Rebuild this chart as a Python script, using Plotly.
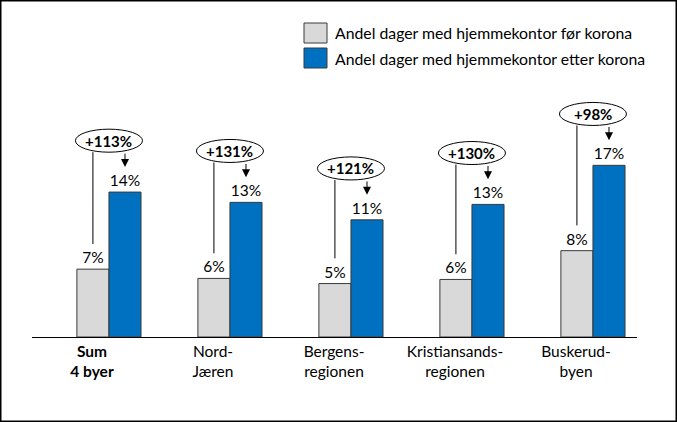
import plotly.graph_objects as go

# ---- data ----
categories = ["<b>Sum<br>4 byer</b>", "Nord-<br>Jæren", "Bergens-<br>regionen",
              "Kristiansands-<br>regionen", "Buskerud-<br>byen"]
before = [6.6, 5.7, 5.2, 5.6, 8.4]
after = [14.1, 13.1, 11.4, 12.9, 16.7]
change_labels = ["+113%", "+131%", "+121%", "+130%", "+98%"]
series_names = ["Andel dager med hjemmekontor før korona",
                "Andel dager med hjemmekontor etter korona"]
colors = ["#D9D9D9", "#0070C0"]

# ---- layout geometry ----
W, H = 677, 422
ML, MR, MT, MB = 32, 40, 20, 85
PW, PH = W - ML - MR, H - MT - MB
YMAX = 30.84
FONT = "Lato"
FS = 15.5

def px2x(px):
    return (px - ML) / PW

def px2y(py):
    return (H - MB - py) / PH

xs = list(range(len(categories)))
fig = go.Figure()
for name, vals, col in zip(series_names, [before, after], colors):
    fig.add_trace(go.Bar(
        x=xs, y=vals, name=name,
        marker=dict(color=col, line=dict(color="#3a3a3a", width=1)),
        texttemplate="%{y:.0f}%", textposition="outside",
        textfont=dict(size=FS, color="black", family=FONT),
        cliponaxis=False, showlegend=False, hoverinfo="skip",
    ))

shapes = []
annotations = []
off = 0.1325
ell_dy = 5.0
ell_h = 1.12
for i, (b, a, lab) in enumerate(zip(before, after, change_labels)):
    cy = a + ell_dy
    shapes.append(dict(type="circle", xref="x", yref="y",
                       x0=i - 0.277, x1=i + 0.277, y0=cy - ell_h, y1=cy + ell_h,
                       line=dict(color="black", width=1), fillcolor="white", layer="above"))
    shapes.append(dict(type="line", xref="x", yref="y",
                       x0=i - off, x1=i - off, y0=cy - ell_h, y1=b + 2.45,
                       line=dict(color="black", width=1)))
    annotations.append(dict(x=i + off, y=a + 2.45, ax=i + off, ay=cy - ell_h,
                            xref="x", yref="y", axref="x", ayref="y",
                            showarrow=True, arrowhead=2, arrowsize=1.6, arrowwidth=1,
                            arrowcolor="black", text=""))
    annotations.append(dict(x=i, y=cy, xref="x", yref="y", text="<b>%s</b>" % lab,
                            showarrow=False, font=dict(size=15, color="black", family=FONT)))

# legend (manual)
leg_rows = [33, 58]
for name, col, yc in zip(series_names, colors, leg_rows):
    shapes.append(dict(type="rect", xref="paper", yref="paper",
                       x0=px2x(304), x1=px2x(327), y0=px2y(yc - 10), y1=px2y(yc + 10),
                       fillcolor=col, line=dict(color="#3a3a3a", width=1)))
    annotations.append(dict(x=px2x(333), y=px2y(yc), xref="paper", yref="paper",
                            xanchor="left", yanchor="middle", text=name, showarrow=False,
                            font=dict(size=15.8, color="black", family=FONT)))

# outer border
shapes.append(dict(type="rect", xref="paper", yref="paper",
                   x0=px2x(0.75), x1=px2x(W - 0.75), y0=px2y(H - 0.75), y1=px2y(0.75),
                   line=dict(color="black", width=1.5)))

fig.update_layout(
    width=W, height=H, margin=dict(l=ML, r=MR, t=MT, b=MB, autoexpand=False),
    barmode="group", bargap=0.47, bargroupgap=0,
    plot_bgcolor="white", paper_bgcolor="white",
    font=dict(family=FONT, size=FS, color="black"),
    xaxis=dict(range=[-0.636, 4.364], tickvals=[x - 0.14 for x in xs], ticktext=categories,
               showline=True, linecolor="black", linewidth=1, ticks="", showgrid=False,
               zeroline=False, tickfont=dict(size=FS, color="black", family=FONT)),
    yaxis=dict(range=[0, YMAX], visible=False, showgrid=False),
    shapes=shapes, annotations=annotations,
)
fig.write_html("out.html", config={"displayModeBar": False},
               post_script="document.body.style.margin='0';document.body.style.overflow='hidden';")
